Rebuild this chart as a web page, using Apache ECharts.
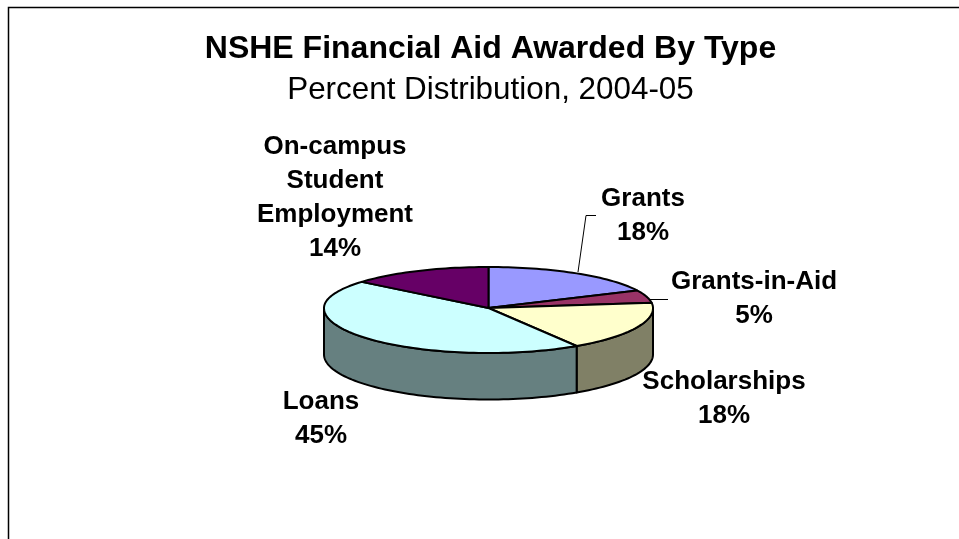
<!DOCTYPE html>
<html>
<head>
<meta charset="utf-8">
<style>
  html, body { margin: 0; padding: 0; background: #fff; }
  #chart { width: 959px; height: 539px; }
</style>
<script src="https://cdn.jsdelivr.net/npm/echarts@6/dist/echarts.min.js"></script>
</head>
<body>
<div id="chart"></div>
<script>
// Aid types, clockwise from twelve o'clock
const categories = ['Grants', 'Grants-in-Aid', 'Scholarships', 'Loans', 'On-campus\nStudent\nEmployment'];
const percents = [18, 5, 18, 45, 14];
const topColors = ['#9999FF', '#993366', '#FFFFCC', '#CCFFFF', '#660066'];
const wallColors = ['#4D4D80', '#4D1A33', '#808066', '#668080', '#330033'];

// Drawing geometry of the tilted disc: the near half reads slightly deeper than the far half
const disc = { cx: 488.5, cy: 308, rx: 164.5, ryFar: 41, ryNear: 45, depth: 46.5 };
const labelAnchors = [
  { x: 643, y: 216 }, { x: 754, y: 299 }, { x: 724, y: 399 },
  { x: 321, y: 419 }, { x: 335, y: 198 }
];
const leaderLines = [
  [[578, 272], [586, 215.5], [596, 215.5]],
  [[649, 299.5], [668, 299.5]]
];

const total = percents.reduce((a, b) => a + b, 0);
const cumulative = [];
percents.reduce((sum, v, i) => (cumulative[i] = [sum, sum + v], sum + v), 0);

// Point on the rim; angle is clockwise from the top of the disc
function rim(angle, drop) {
  const c = Math.cos(angle);
  return [disc.cx + disc.rx * Math.sin(angle), disc.cy - (c > 0 ? disc.ryFar : disc.ryNear) * c + (drop || 0)];
}
function arcPoints(from, to, drop) {
  const n = Math.max(2, Math.ceil((to - from) / 0.03));
  const pts = [];
  for (let k = 0; k <= n; k++) pts.push(rim(from + (to - from) * k / n, drop));
  return pts;
}
const toAngle = v => v / total * Math.PI * 2;
const outline = { stroke: '#000', lineWidth: 2, lineJoin: 'round' };

function renderWall(params, api) {
  const i = params.dataIndex;
  const from = Math.max(toAngle(cumulative[i][0]), Math.PI / 2);
  const to = Math.min(toAngle(cumulative[i][1]), Math.PI * 1.5);
  if (to <= from) return { type: 'group', children: [] };
  const points = arcPoints(from, to, 0).concat(arcPoints(from, to, disc.depth).reverse());
  return { type: 'polygon', shape: { points }, style: { fill: wallColors[i], ...outline } };
}

function renderTop(params, api) {
  const i = params.dataIndex;
  const points = [[disc.cx, disc.cy]].concat(arcPoints(toAngle(cumulative[i][0]), toAngle(cumulative[i][1]), 0));
  return { type: 'polygon', shape: { points }, style: { fill: topColors[i], ...outline } };
}

function renderLabel(params, api) {
  const i = params.dataIndex;
  return {
    type: 'text',
    x: labelAnchors[i].x,
    y: labelAnchors[i].y,
    style: {
      text: categories[i] + '\n' + percents[i] + '%',
      font: 'bold 26px "Liberation Sans", Arial, sans-serif',
      fill: '#000',
      align: 'center',
      verticalAlign: 'middle',
      lineHeight: 34
    }
  };
}

const seriesData = categories.map((name, i) => ({ name: name, value: percents[i] }));

const chart = echarts.init(document.getElementById('chart'), null, { renderer: 'canvas' });
chart.setOption({
  animation: false,
  backgroundColor: '#fff',
  title: {
    text: 'NSHE Financial Aid Awarded By Type',
    subtext: 'Percent Distribution, 2004-05',
    left: 485.5,
    top: 28,
    textAlign: 'center',
    itemGap: 10,
    textStyle: { fontFamily: 'Liberation Sans', fontWeight: 'bold', fontSize: 32, color: '#000' },
    subtextStyle: { fontFamily: 'Liberation Sans', fontSize: 31.4, color: '#000' }
  },
  graphic: [
    { type: 'polyline', silent: true, shape: { points: [[8.5, 539], [8.5, 7.5], [959, 7.5]] }, style: { fill: 'none', stroke: '#000', lineWidth: 1.5 } }
  ].concat(leaderLines.map(points => ({
    type: 'polyline', silent: true, shape: { points }, style: { fill: 'none', stroke: '#000', lineWidth: 1 }
  }))),
  series: [
    { type: 'custom', coordinateSystem: 'none', renderItem: renderWall, data: seriesData, z: 2 },
    { type: 'custom', coordinateSystem: 'none', renderItem: renderTop, data: seriesData, z: 3 },
    { type: 'custom', coordinateSystem: 'none', renderItem: renderLabel, data: seriesData, z: 4 }
  ]
});
</script>
</body>
</html>
